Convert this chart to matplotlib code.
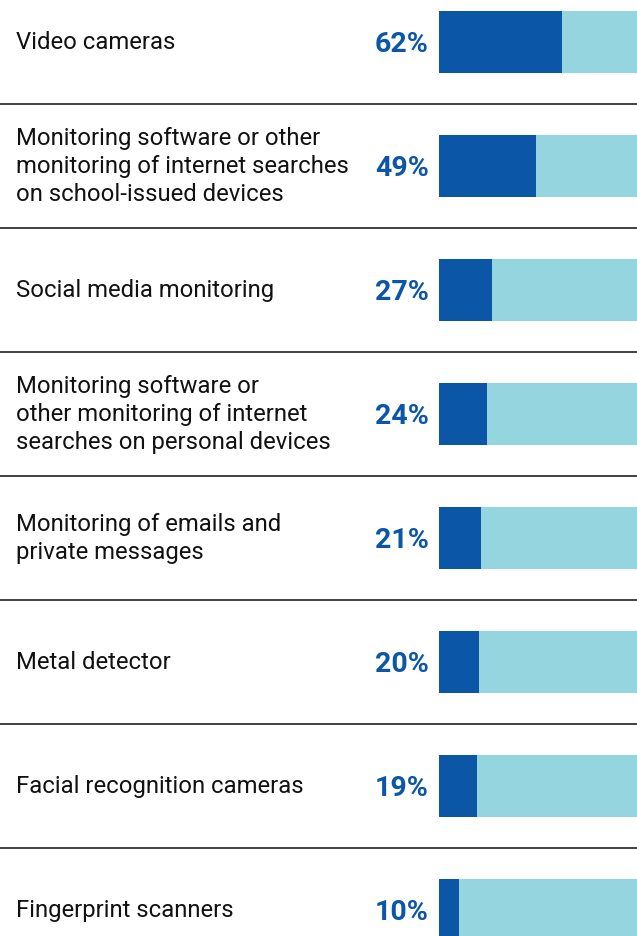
import matplotlib.pyplot as plt

# 数据
categories = [
    "Video cameras",
    "Monitoring software or other\nmonitoring of internet searches\non school-issued devices",
    "Social media monitoring",
    "Monitoring software or\nother monitoring of internet\nsearches on personal devices",
    "Monitoring of emails and\nprivate messages",
    "Metal detector",
    "Facial recognition cameras",
    "Fingerprint scanners",
]
values = [62, 49, 27, 24, 21, 20, 19, 10]

dark = "#0b56a6"
light = "#95d5e0"

W, H = 637, 937
fig = plt.figure(figsize=(W / 100, H / 100), dpi=100)
ax = fig.add_axes([0, 0, 1, 1])

pitch = 124.0
c0 = 42.5
x0 = 439.0
full = 198.0

n = len(values)
rows = list(range(n))

ax.barh(rows, [100] * n, height=0.5, color=light, left=0)
ax.barh(rows, values, height=0.5, color=dark, left=0)

for i, (cat, v) in enumerate(zip(categories, values)):
    ax.text(-221.7 + 16 / full * 100, i, cat, ha="left", va="center",
            fontsize=17.2, family="Roboto", color="#111111", linespacing=1.26)
    ax.text(-(439 - 429) / full * 100, i + 0.02, f"{v}%", ha="right", va="center",
            fontsize=20.5, fontweight="bold", family="Roboto", color=dark)

for i in range(n - 1):
    ax.axhline(i + 0.5, color="#333333", lw=1.3)

ax.set_xlim(-x0 / full * 100, (W - x0) / full * 100)
ax.set_ylim((H - c0) / pitch, -c0 / pitch)
ax.axis("off")

fig.savefig("out.png", dpi=100)
